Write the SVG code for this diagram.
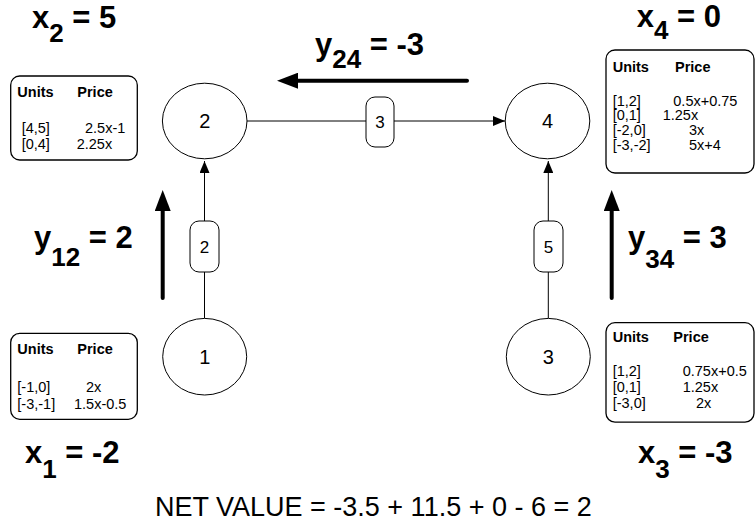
<svg xmlns="http://www.w3.org/2000/svg" width="756" height="527" viewBox="0 0 756 527">
<style>
.bg{fill:#fff}
.node{fill:#fff;stroke:#000;stroke-width:1}
.tbl{fill:#fff;stroke:#000;stroke-width:1.3}
.lbox{fill:#fff;stroke:#000;stroke-width:1}
.edge{fill:none;stroke:#000;stroke-width:1}
.flow{fill:none;stroke:#000;stroke-width:4;stroke-linecap:round}
.t{font-family:"Liberation Sans",Arial,sans-serif;fill:#000}
.nt{font-size:20px;text-anchor:middle}
.lt{font-size:17px;text-anchor:middle}
.th{font-size:14.5px;font-weight:bold}
.td{font-size:14.5px}
.big{font-size:31px;font-weight:bold}
.sub{font-size:26px}
.net{font-size:27px}
</style>
<defs>
<marker id="ah" markerUnits="userSpaceOnUse" markerWidth="12" markerHeight="10" refX="12" refY="5" orient="auto">
<path d="M0,0 L12,5 L0,10 Z" fill="#000"/>
</marker>
<marker id="bh" markerUnits="userSpaceOnUse" markerWidth="21" markerHeight="16" refX="0" refY="8" orient="auto">
<path d="M0,0 L21,8 L0,16 Z" fill="#000"/>
</marker>
</defs>
<rect class="bg" x="0" y="0" width="756" height="527"/>

<g id="connectors">
<line class="edge" x1="247" y1="121" x2="505" y2="121" marker-end="url(#ah)"/>
<line class="edge" x1="204.5" y1="318" x2="204.5" y2="161" marker-end="url(#ah)"/>
<line class="edge" x1="548.3" y1="318" x2="548.3" y2="161" marker-end="url(#ah)"/>
<g id="edge-label-24">
<rect class="lbox" x="366" y="97" width="28" height="50" rx="9"/>
<text class="t lt" x="380" y="128">3</text>
</g>
<g id="edge-label-12">
<rect class="lbox" x="190" y="221" width="29" height="51" rx="9"/>
<text class="t lt" x="204.5" y="252.5">2</text>
</g>
<g id="edge-label-34">
<rect class="lbox" x="534" y="221" width="29" height="51" rx="9"/>
<text class="t lt" x="548.5" y="252.5">5</text>
</g>
</g>

<g id="flows">
<line class="flow" x1="467" y1="80.7" x2="298" y2="80.7" marker-end="url(#bh)"/>
<line class="flow" x1="162.7" y1="298" x2="162.7" y2="211" marker-end="url(#bh)"/>
<line class="flow" x1="611.7" y1="298" x2="611.7" y2="211" marker-end="url(#bh)"/>
</g>

<g id="node-2">
<ellipse class="node" cx="204.7" cy="121" rx="42.3" ry="37.8"/>
<text class="t nt" x="204.7" y="128">2</text>
</g>
<g id="node-4">
<ellipse class="node" cx="547.5" cy="121" rx="42.3" ry="37.8"/>
<text class="t nt" x="547.5" y="128">4</text>
</g>
<g id="node-1">
<ellipse class="node" cx="204.7" cy="356.7" rx="42" ry="38.3"/>
<text class="t nt" x="204.7" y="364">1</text>
</g>
<g id="node-3">
<ellipse class="node" cx="548.3" cy="356.7" rx="42" ry="38.3"/>
<text class="t nt" x="548.3" y="364">3</text>
</g>

<g id="table-2">
<rect class="tbl" x="10.7" y="76" width="126.6" height="84" rx="9"/>
<text class="t th" x="17.3" y="97">Units</text>
<text class="t th" x="77.3" y="97">Price</text>
<text class="t td" x="21.7" y="133">[4,5]</text>
<text class="t td" x="85" y="133">2.5x-1</text>
<text class="t td" x="21.7" y="149">[0,4]</text>
<text class="t td" x="76.7" y="149">2.25x</text>
</g>
<g id="table-4">
<rect class="tbl" x="606" y="50" width="148" height="123" rx="9"/>
<text class="t th" x="612.7" y="71.7">Units</text>
<text class="t th" x="675" y="71.7">Price</text>
<text class="t td" x="612.7" y="106">[1,2]</text>
<text class="t td" x="673.3" y="106">0.5x+0.75</text>
<text class="t td" x="612.7" y="120">[0,1]</text>
<text class="t td" x="662.7" y="120">1.25x</text>
<text class="t td" x="612.7" y="134.5">[-2,0]</text>
<text class="t td" x="689" y="134.5">3x</text>
<text class="t td" x="612.7" y="150">[-3,-2]</text>
<text class="t td" x="689" y="150">5x+4</text>
</g>
<g id="table-1">
<rect class="tbl" x="10.7" y="333.3" width="126.6" height="86" rx="9"/>
<text class="t th" x="17.3" y="354">Units</text>
<text class="t th" x="77.3" y="354">Price</text>
<text class="t td" x="17.3" y="392">[-1,0]</text>
<text class="t td" x="86" y="392">2x</text>
<text class="t td" x="17.3" y="408.5">[-3,-1]</text>
<text class="t td" x="74" y="408.5">1.5x-0.5</text>
</g>
<g id="table-3">
<rect class="tbl" x="606" y="322.7" width="148" height="99.5" rx="9"/>
<text class="t th" x="612.7" y="342">Units</text>
<text class="t th" x="673.3" y="342">Price</text>
<text class="t td" x="612.7" y="376">[1,2]</text>
<text class="t td" x="682.7" y="376">0.75x+0.5</text>
<text class="t td" x="612.7" y="392">[0,1]</text>
<text class="t td" x="682.7" y="392">1.25x</text>
<text class="t td" x="612.7" y="408">[-3,0]</text>
<text class="t td" x="696" y="408">2x</text>
</g>

<g id="labels">
<text class="t big" x="32" y="27.5">x<tspan class="sub" y="41.5">2</tspan><tspan y="27.5"> = 5</tspan></text>
<text class="t big" x="636.7" y="27">x<tspan class="sub" y="39">4</tspan><tspan y="27"> = 0</tspan></text>
<text class="t big" x="315" y="55">y<tspan class="sub" y="67.5">24</tspan><tspan y="55"> = -3</tspan></text>
<text class="t big" x="34" y="248">y<tspan class="sub" y="266">12</tspan><tspan y="248"> = 2</tspan></text>
<text class="t big" x="628" y="248">y<tspan class="sub" y="267.5">34</tspan><tspan y="248"> = 3</tspan></text>
<text class="t big" x="25" y="463">x<tspan class="sub" y="478">1</tspan><tspan y="463"> = -2</tspan></text>
<text class="t big" x="638" y="463">x<tspan class="sub" y="478">3</tspan><tspan y="463"> = -3</tspan></text>
<text class="t net" x="155" y="516">NET VALUE = -3.5 + 11.5 + 0 - 6 = 2</text>
</g>
</svg>
